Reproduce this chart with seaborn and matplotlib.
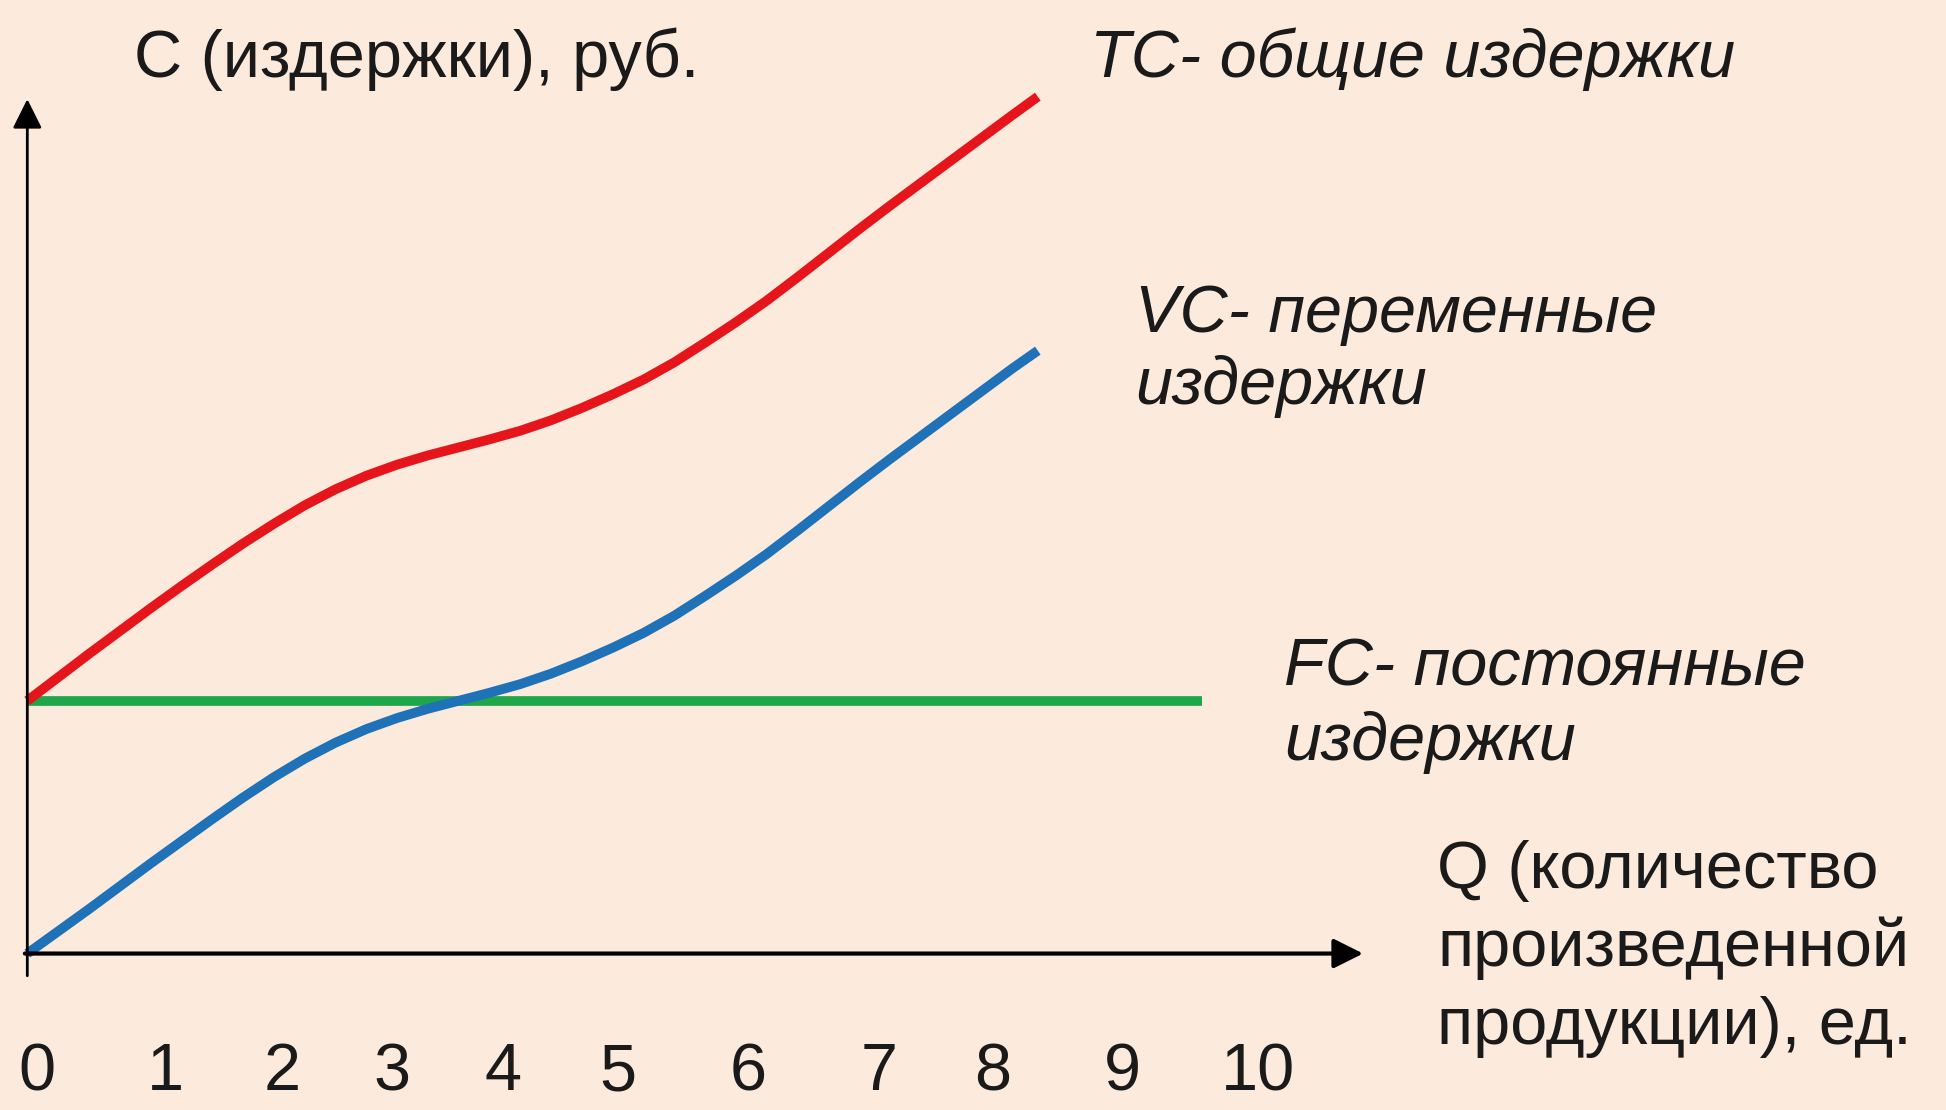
import numpy as np
import pandas as pd
import matplotlib
matplotlib.use('Agg')
import matplotlib.pyplot as plt
import seaborn as sns

# quantity Q (units) and costs
q = [0, 0.25, 0.5, 0.75, 1, 1.25, 1.5, 1.75, 2, 2.25, 2.5, 2.75, 3, 3.25, 3.5, 3.75,
     4, 4.25, 4.5, 4.75, 5, 5.25, 5.5, 5.75, 6, 6.25, 6.5, 6.75, 7, 7.25, 7.5, 7.75, 8, 8.2]
vc = [0.00, 0.18, 0.36, 0.545, 0.73, 0.91, 1.09, 1.265, 1.43, 1.58, 1.71, 1.82, 1.91, 1.985,
      2.05, 2.115, 2.185, 2.27, 2.37, 2.48, 2.60, 2.74, 2.90, 3.065, 3.24, 3.43, 3.625, 3.82,
      4.01, 4.195, 4.38, 4.565, 4.75, 4.89]
tc = [2.05, 2.24, 2.43, 2.615, 2.80, 2.98, 3.155, 3.325, 3.485, 3.635, 3.765, 3.875, 3.965,
      4.04, 4.105, 4.17, 4.24, 4.325, 4.425, 4.535, 4.655, 4.795, 4.955, 5.12, 5.295, 5.485,
      5.68, 5.875, 6.065, 6.25, 6.435, 6.62, 6.805, 6.95]
fc_q = [0, 9.53]
fc = [2.05, 2.05]

# x tick labels and where they sit under the axis
tick_labels = ['0', '1', '2', '3', '4', '5', '6', '7', '8', '9', '10']
tick_pos = [0.08, 1.12, 2.07, 2.96, 3.86, 4.79, 5.85, 6.91, 7.83, 8.89, 9.99]

bg = '#fceadc'
red = '#e6151b'
blue = '#1f72b8'
green = '#1fa64a'
ink = '#1a1a1a'

sns.set_theme(style='white')
plt.rcParams['font.family'] = ['Liberation Sans', 'DejaVu Sans']

fig = plt.figure(figsize=(19.46, 11.10), dpi=100)
fig.patch.set_facecolor(bg)
ax = fig.add_axes([0, 0, 1, 1])
ax.set_facecolor(bg)
ax.set_xlim(-0.2216, 15.57)
ax.set_ylim(-1.269, 7.734)
ax.axis('off')

# axes with arrows
ax.annotate('', xy=(10.84, 0), xytext=(-0.02, 0),
            arrowprops=dict(arrowstyle='-|>', lw=3.0, color='black',
                            mutation_scale=45, shrinkA=0, shrinkB=0))
ax.annotate('', xy=(0, 6.93), xytext=(0, -0.18),
            arrowprops=dict(arrowstyle='-|>', lw=2.0, color='black',
                            mutation_scale=45, shrinkA=0, shrinkB=0))

# cost curves
sns.lineplot(x=fc_q, y=fc, color=green, lw=7, ax=ax, solid_capstyle='butt')
sns.lineplot(x=q, y=vc, color=blue, lw=7, ax=ax, solid_capstyle='butt', solid_joinstyle='round')
sns.lineplot(x=q, y=tc, color=red, lw=7, ax=ax, solid_capstyle='butt', solid_joinstyle='round')

fs = 48
ax.text(0.866, 7.11, 'С (издержки), руб.', fontsize=fs, va='baseline', color=ink)
ax.text(8.62, 7.11, 'TC- общие издержки', fontsize=fs, style='italic', va='baseline', color=ink)
ax.text(8.99, 5.04, 'VC- переменные', fontsize=fs, style='italic', va='baseline', color=ink)
ax.text(8.99, 4.46, 'издержки', fontsize=fs, style='italic', va='baseline', color=ink)
ax.text(10.20, 2.17, 'FC- постоянные', fontsize=fs, style='italic', va='baseline', color=ink)
ax.text(10.20, 1.57, 'издержки', fontsize=fs, style='italic', va='baseline', color=ink)
ax.text(11.44, 0.53, 'Q (количество', fontsize=fs, va='baseline', color=ink)
ax.text(11.44, -0.10, 'произведенной', fontsize=fs, va='baseline', color=ink)
ax.text(11.44, -0.73, 'продукции), ед.', fontsize=fs, va='baseline', color=ink)

for pos, lab in zip(tick_pos, tick_labels):
    ax.text(pos, -1.11, lab, fontsize=48, ha='center', va='baseline', color=ink)

fig.savefig('out.png', dpi=100, facecolor=bg)
